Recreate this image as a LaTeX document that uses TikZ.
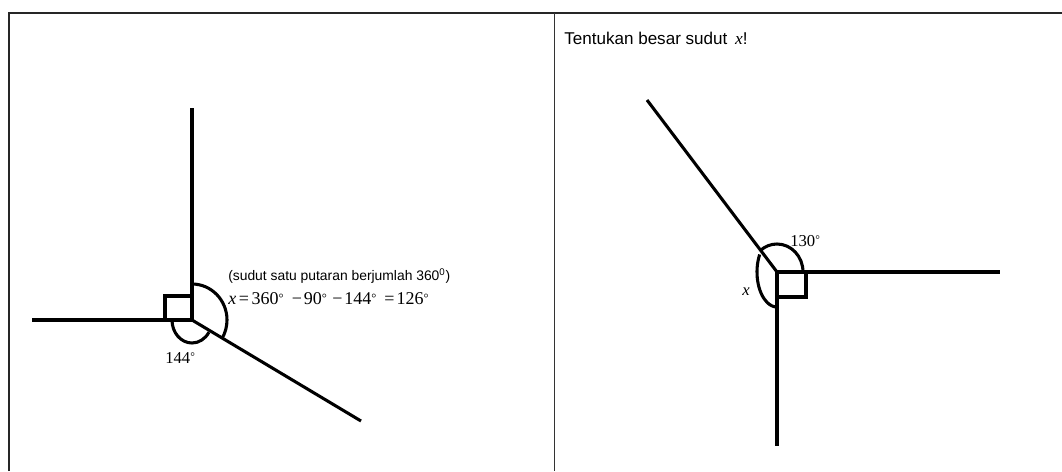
\documentclass[tikz,border=0pt]{standalone}
\usepackage{fontspec}
\setmainfont{Liberation Sans}
\newfontfamily\tnr{Liberation Serif}
\newcommand{\dg}{\raisebox{0.35ex}{\scalebox{0.7}{°}}}
\begin{document}
\begin{tikzpicture}[x=0.75pt,y=-0.75pt,
  ray/.style={line width=2.3pt,line cap=butt},
  arcline/.style={line width=2.3pt},
  sqbox/.style={line width=2.3pt},
  frameline/.style={line width=1.5pt,draw=black!85},
  divline/.style={line width=0.75pt,draw=black!80},
  lbl/.style={inner sep=0pt,anchor=west,font=\tnr\fontsize{12.5}{14}\selectfont},
  eqlbl/.style={inner sep=0pt,anchor=west,font=\tnr\fontsize{13.5}{15}\selectfont},
  sanslbl/.style={inner sep=0pt,anchor=west,font=\fontsize{10.4}{12}\selectfont},
  qlbl/.style={inner sep=0pt,anchor=west,font=\fontsize{12.8}{14}\selectfont}]
\useasboundingbox (0,0) rectangle (1062,471);
% frame
\coordinate (TL) at (9,13);
\coordinate (TR) at (1062,13);
\coordinate (BL) at (9,471);
\coordinate (MT) at (554,13);
\coordinate (MB) at (554,471);
\draw[frameline] (BL) -- (TL) -- (TR);
\draw[divline] (MT) -- (MB);
% left figure
\coordinate (O1) at (192,320);
\coordinate (U1) at (192,108);
\coordinate (L1) at (32,320);
\coordinate (D1) at (361,421);
\draw[ray] (O1) -- (U1);
\draw[ray] (O1) -- (L1);
\draw[ray] (O1) -- (D1);
\draw[sqbox] (O1) rectangle ++(-27,-24);
\draw[arcline] ([shift={(180:20 and 23)}]O1) arc[start angle=180,end angle=32,x radius=20,y radius=23];
\draw[arcline] ([shift={(270:35 and 36)}]O1) arc[start angle=270,end angle=392,x radius=35,y radius=36];
\node[sanslbl] (note) at (228,276) {(sudut satu putaran berjumlah 360\textsuperscript{0})};
\node[eqlbl] (eq) at (228,299) {\textit{x}\hspace{2pt}=\hspace{2pt}360\dg\hspace{6pt}−\hspace{1.5pt}90\dg\hspace{4pt}−\hspace{1.5pt}144\dg\hspace{6pt}=\hspace{1.5pt}126\dg};
\node[lbl] (a144) at (165,358) {144\dg};
% right figure
\coordinate (O2) at (777,272);
\coordinate (R2) at (1000,272);
\coordinate (D2) at (777,446);
\coordinate (U2) at (647,100);
\draw[ray] (O2) -- (R2);
\draw[ray] (O2) -- (D2);
\draw[ray] (O2) -- (U2);
\draw[sqbox] (O2) rectangle ++(29,25);
\draw[arcline] ([shift={(0:26 and 28)}]O2) arc[start angle=0,end angle=-130,x radius=26,y radius=28];
\draw[arcline] ([shift={(210:20 and 35)}]O2) arc[start angle=210,end angle=90,x radius=20,y radius=35];
\node[lbl] (a130) at (790,241) {130\dg};
\node[lbl] (ax) at (742,292) {\textit{x}};
\node[qlbl] (q) at (564,38) {Tentukan besar sudut {\tnr\fontsize{13}{14}\selectfont\,\textit{x}}!};
\end{tikzpicture}
\end{document}
